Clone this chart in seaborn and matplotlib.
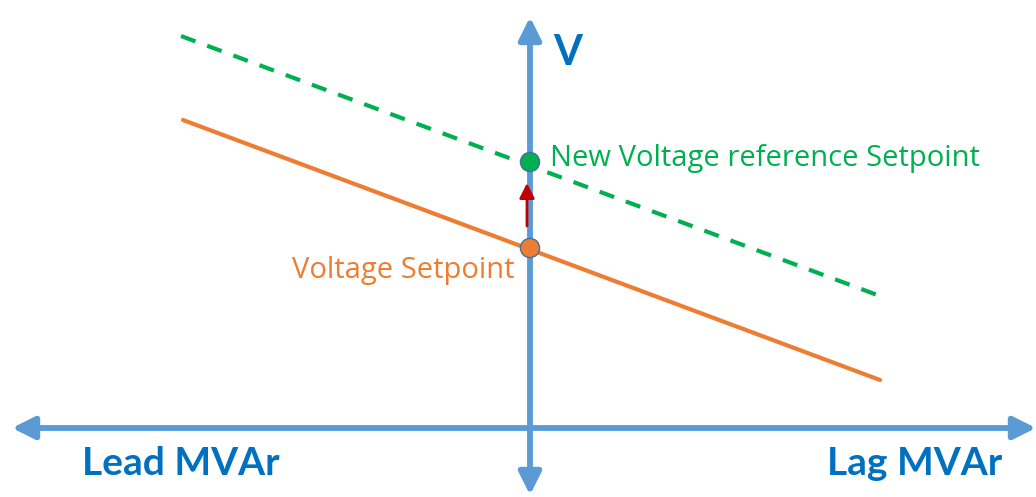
import numpy as np
import pandas as pd
import seaborn as sns
import matplotlib.pyplot as plt

# diagram coordinates (x to the right, y downward, same scale as the picture)
old_line_x = [183, 880]
old_line_y = [120, 380]
new_line_x = [181, 880]
new_line_y = [36, 296]

point_x = [530, 530]
point_y = [248, 162]
point_names = ['Voltage Setpoint', 'New Voltage reference Setpoint']

axis_x = 530
axis_y = 428

blue = '#5B9BD5'
dark_blue = '#0070C0'
orange = '#ED7D31'
green = '#00B050'
dark_red = '#C00000'

sns.set_theme(style='white')
plt.rcParams['font.family'] = ['Lato', 'DejaVu Sans']

fig = plt.figure(figsize=(10.36, 4.97), dpi=100)
ax = fig.add_axes([0, 0, 1, 1])
ax.set_xlim(0, 1036)
ax.set_ylim(497, 0)
ax.axis('off')

# axes with arrow heads at both ends
arrow_style = '<|-|>,head_length=0.9,head_width=0.45'
ax.annotate('', xy=(12, axis_y), xytext=(1036, axis_y),
            arrowprops=dict(arrowstyle=arrow_style, mutation_scale=15, lw=4.2,
                            color=blue, shrinkA=0, shrinkB=0))
ax.annotate('', xy=(axis_x, 495), xytext=(axis_x, 17),
            arrowprops=dict(arrowstyle=arrow_style, mutation_scale=15, lw=4.2,
                            color=blue, shrinkA=0, shrinkB=0))

# droop lines
sns.lineplot(x=old_line_x, y=old_line_y, color=orange, linewidth=3, ax=ax)
sns.lineplot(x=new_line_x, y=new_line_y, color=green, linewidth=3,
             linestyle=(0, (3.7, 3)), ax=ax)

# setpoint shift arrow
ax.annotate('', xy=(527, 183), xytext=(527, 226),
            arrowprops=dict(arrowstyle='-|>,head_length=0.6,head_width=0.3', mutation_scale=15,
                            lw=2, color=dark_red, shrinkA=0, shrinkB=0))

pts = pd.DataFrame({'x': point_x, 'y': point_y, 'name': point_names})
sns.scatterplot(data=pts, x='x', y='y', hue='name', palette=[orange, green],
                s=190, edgecolor='#41719C', linewidth=1, legend=False, zorder=5, ax=ax)

label_font = ['Open Sans', 'DejaVu Sans']
ax.text(553, 65, 'V', color=dark_blue, fontsize=30, fontweight='bold', va='baseline', ha='left')
ax.text(550, 166, point_names[1], color=green, fontsize=21, va='baseline', ha='left',
        family=label_font)
ax.text(515, 278, point_names[0], color=orange, fontsize=21, va='baseline', ha='right',
        family=label_font)
ax.text(82, 475, 'Lead MVAr', color=dark_blue, fontsize=28, fontweight='bold', va='baseline', ha='left')
ax.text(1002, 475, 'Lag MVAr', color=dark_blue, fontsize=28, fontweight='bold', va='baseline', ha='right')

fig.savefig('out.png', dpi=100)
